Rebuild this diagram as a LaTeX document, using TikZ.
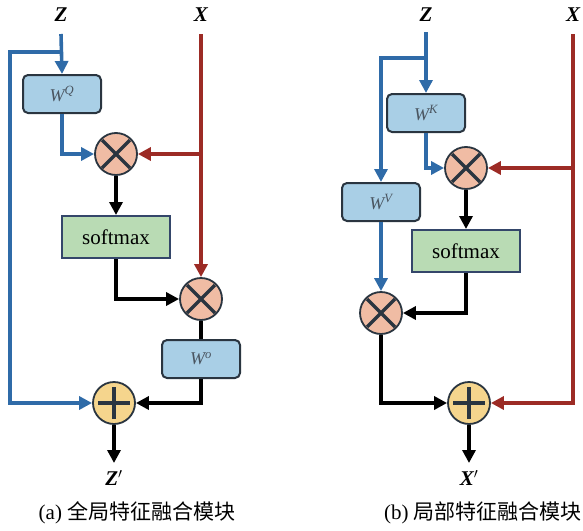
\documentclass[tikz,border=0pt]{standalone}
\usepackage{fontspec}
\setmainfont{Liberation Serif}
\newfontfamily\cjk{Noto Sans CJK SC}
\usetikzlibrary{arrows.meta}
\definecolor{lblue}{HTML}{2F6BA8}
\definecolor{lred}{HTML}{9C2B25}
\definecolor{wfill}{HTML}{A9CFE6}
\definecolor{smfill}{HTML}{B9DBB4}
\definecolor{mulfill}{HTML}{F0BCA4}
\definecolor{addfill}{HTML}{F5D58D}
\definecolor{edge}{HTML}{2A3540}
\definecolor{smedge}{HTML}{34466A}
\definecolor{wtext}{HTML}{4A5560}
\tikzset{
  x=1pt, y=-1pt,
  arr/.style={-{Triangle[length=13pt,width=13pt]}},
  bluel/.style={draw=lblue, line width=3.6pt},
  redl/.style={draw=lred, line width=3.6pt},
  blk/.style={draw=black, line width=3.6pt},
  wbox/.style={draw=edge, fill=wfill, rounded corners=5pt, line width=2pt,
    minimum width=78pt, minimum height=38pt, inner sep=0pt,
    font=\fontsize{18}{18}\selectfont\itshape, text=wtext},
  smbox/.style={draw=smedge, fill=smfill, line width=2pt,
    minimum width=108pt, minimum height=42pt, inner sep=0pt,
    font=\fontsize{21}{21}\selectfont},
  mulc/.style={circle, draw=edge, fill=mulfill, line width=1.8pt,
    minimum size=42pt, inner sep=0pt,
    path picture={\draw[line width=3.4pt, shift={(path picture bounding box.center)}]
      (-14pt,-14pt) -- (14pt,14pt) (-14pt,14pt) -- (14pt,-14pt);}},
  addc/.style={circle, draw=edge, fill=addfill, line width=1.8pt,
    minimum size=42pt, inner sep=0pt,
    path picture={\draw[line width=3.4pt, shift={(path picture bounding box.center)}]
      (-16pt,0pt) -- (16pt,0pt) (0pt,-16pt) -- (0pt,16pt);}},
  lab/.style={font=\fontsize{21}{21}\selectfont\bfseries\itshape, inner sep=0pt},
  capt/.style={font=\fontsize{21}{21}\selectfont, inner sep=0pt}
}
\begin{document}
\begin{tikzpicture}
\useasboundingbox (0,0) rectangle (583,530);
% ---------- left panel ----------
\node[lab] (zL) at (61,15) {Z};
\node[lab] (xL) at (201,15) {X};
\coordinate (zLt) at (61,34);
\coordinate (xLt) at (201,34);
\coordinate (bL) at (61,52);
\coordinate (lL) at (10,52);
\node[wbox] (wq) at (62,94) {W\textsuperscript{Q}};
\node[mulc] (c1) at (116,154) {};
\node[smbox] (sm1) at (116,237) {softmax};
\node[mulc] (c2) at (201,299) {};
\node[wbox] (wo) at (201,359) {W\textsuperscript{o}};
\node[addc] (p1) at (114,403) {};
\coordinate (zpt) at (114,463);
\node[lab] (zp) at (114,478) {Z$'$};
\node[capt] (capa) at (137,513) {(a) {\cjk 全局特征融合模块}};

\draw[bluel,arr] (zLt) -- (wq.north);
\draw[bluel,arr] (bL) -- (lL) |- (p1.west);
\draw[bluel,arr] (wq.south) |- (c1.west);
\draw[redl,arr] (xLt) -- (c2.north);
\draw[redl,arr] (c1.east -| xLt) -- (c1.east);
\draw[blk,arr] (c1.south) -- (sm1.north);
\draw[blk,arr] (sm1.south) |- (c2.west);
\draw[blk] (c2.south) -- (wo.north);
\draw[blk,arr] (wo.south) |- (p1.east);
\draw[blk,arr] (p1.south) -- (zpt);

% ---------- right panel ----------
\node[lab] (zR) at (426,15) {Z};
\node[lab] (xR) at (573,15) {X};
\coordinate (zRt) at (426,32);
\coordinate (xRt) at (573,34);
\coordinate (bR) at (426,58);
\node[wbox] (wk) at (426,113) {W\textsuperscript{K}};
\node[mulc] (c3) at (466,168) {};
\node[wbox] (wv) at (381,202) {W\textsuperscript{V}};
\node[smbox] (sm2) at (466,251) {softmax};
\node[mulc] (c4) at (381,313) {};
\node[addc] (p2) at (469,403) {};
\coordinate (xpt) at (469,463);
\node[lab] (xp) at (469,478) {X$'$};
\node[capt] (capb) at (483,513) {(b) {\cjk 局部特征融合模块}};

\draw[bluel,arr] (zRt) -- (wk.north);
\draw[bluel,arr] (bR) -| (wv.north);
\draw[bluel,arr] (wk.south) |- (c3.west);
\draw[bluel,arr] (wv.south) -- (c4.north);
\draw[redl,arr] (xRt) |- (p2.east);
\draw[redl,arr] (c3.east -| xRt) -- (c3.east);
\draw[blk,arr] (c3.south) -- (sm2.north);
\draw[blk,arr] (sm2.south) |- (c4.east);
\draw[blk,arr] (c4.south) |- (p2.west);
\draw[blk,arr] (p2.south) -- (xpt);
\end{tikzpicture}
\end{document}
